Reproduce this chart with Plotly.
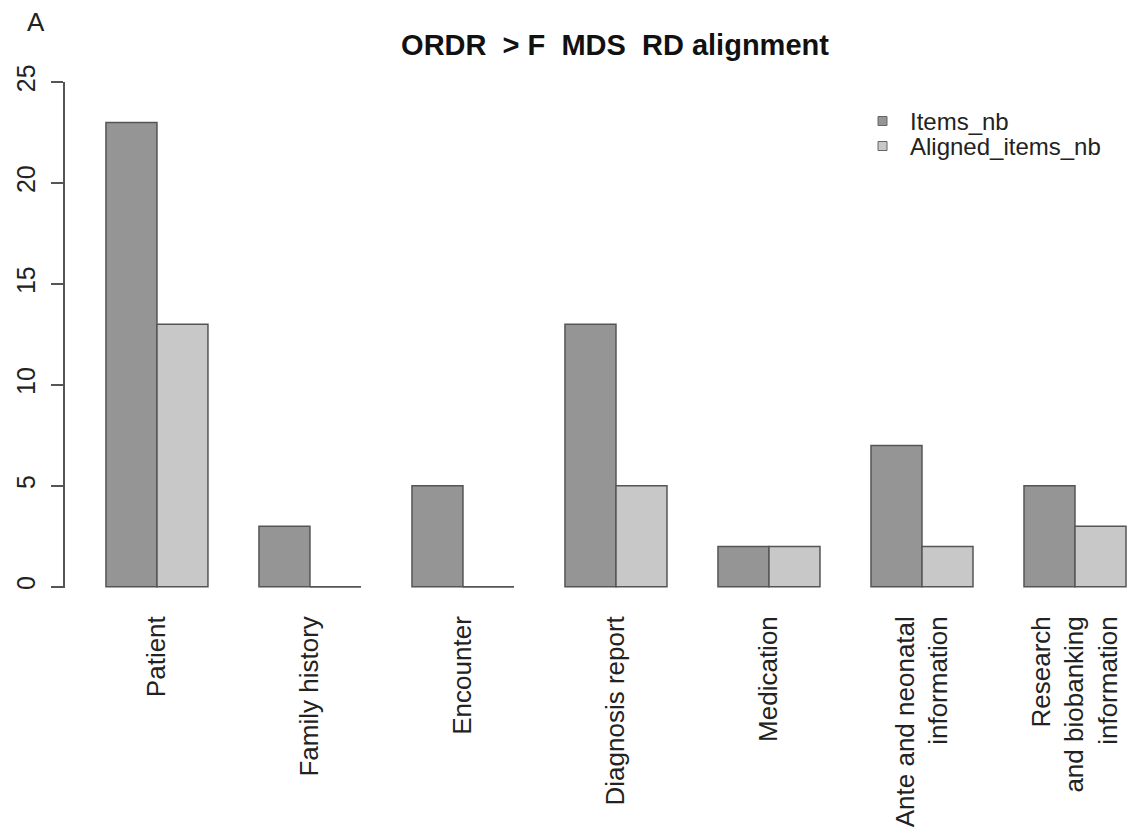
import plotly.graph_objects as go

categories = ["Patient", "Family history", "Encounter", "Diagnosis report",
              "Medication", "Ante and neonatal<br>information",
              "Research<br>and biobanking<br>information"]
series_names = ["Items_nb", "Aligned_items_nb"]
items_nb = [23, 3, 5, 13, 2, 7, 5]
aligned_items_nb = [13, 0, 0, 5, 2, 2, 3]
y_ticks = [0, 5, 10, 15, 20, 25]

title_text = "ORDR\u00a0\u00a0>\u00a0F\u00a0\u00a0MDS\u00a0\u00a0RD alignment"
panel_label = "A"

DARK = "#959595"
LIGHT = "#c8c8c8"
EDGE = "#555555"
FONT = "Liberation Sans, Arial, Helvetica, sans-serif"
FS = 25

# the page body adds an 8px offset; positions below are page pixels minus OFF
OFF = 8
W, H = 1144, 838
L = 65 - OFF
T = 82 - OFF
B = H - (588 - OFF)
R_ = W - (1144 - OFF)
pw, ph = W - L - R_, H - T - B

def px(x):
    return (x - OFF - L) / pw

def py(y):
    return (H - B - (y - OFF)) / ph

fig = go.Figure()
fig.add_trace(go.Bar(x=categories, y=items_nb, name=series_names[0],
                     marker=dict(color=DARK, line=dict(color=EDGE, width=1.5)),
                     showlegend=False))
fig.add_trace(go.Bar(x=categories, y=aligned_items_nb, name=series_names[1],
                     marker=dict(color=LIGHT, line=dict(color=EDGE, width=1.5)),
                     showlegend=False))

# zero-height bars are drawn by R as a flat outline at 0
bar_w = (1 - 1/3) / 2
for k, v in enumerate(items_nb):
    if v == 0:
        fig.add_shape(type="line", xref="x", yref="y", x0=k - bar_w, x1=k, y0=0, y1=0,
                      line=dict(color=EDGE, width=1.5))
for k, v in enumerate(aligned_items_nb):
    if v == 0:
        fig.add_shape(type="line", xref="x", yref="y", x0=k, x1=k + bar_w, y0=0, y1=0,
                      line=dict(color=EDGE, width=1.5))

# legend (R style, top right)
for i, (nm, col) in enumerate(zip(series_names, [DARK, LIGHT])):
    yc = 121 + 25 * i
    fig.add_shape(type="rect", xref="paper", yref="paper",
                  x0=px(878), x1=px(887), y0=py(yc + 4.5), y1=py(yc - 4.5),
                  fillcolor=col, line=dict(color="#666666", width=1))
    fig.add_annotation(xref="paper", yref="paper", x=px(908), y=py(yc),
                       text=nm, showarrow=False, xanchor="left", yanchor="middle",
                       font=dict(family=FONT, size=24, color="#222222"))

fig.add_annotation(xref="paper", yref="paper", x=px(36), y=py(22), text=panel_label,
                   showarrow=False, xanchor="center", yanchor="middle",
                   font=dict(family=FONT, size=26, color="#222222"))

fig.update_layout(
    width=W, height=H,
    margin=dict(l=L, r=R_, t=T, b=B, autoexpand=False),
    paper_bgcolor="white", plot_bgcolor="white",
    barmode="group", bargap=1/3, bargroupgap=0,
    title=dict(text=title_text, x=(615 - OFF) / W, xref="container", xanchor="center",
               y=1 - (45 - OFF) / H, yref="container", yanchor="middle",
               font=dict(family=FONT, size=29, color="#111111", weight="bold")),
    font=dict(family=FONT, size=FS, color="#222222"),
)
fig.update_xaxes(range=[-0.601, 6.451], showline=False, ticks="", showgrid=False,
                 zeroline=False, tickangle=-90, ticklabelstandoff=22, automargin=False,
                 tickfont=dict(family=FONT, size=26, color="#222222"))
fig.update_yaxes(range=[-0.06, 25], tickvals=y_ticks, showline=True, linecolor=EDGE,
                 linewidth=1.5, ticks="outside", ticklen=12, tickcolor=EDGE, tickwidth=1.5,
                 showgrid=False, zeroline=False, tickangle=-90, ticklabelstandoff=6,
                 automargin=False,
                 tickfont=dict(family=FONT, size=FS, color="#222222"))

fig.write_html("out.html")
